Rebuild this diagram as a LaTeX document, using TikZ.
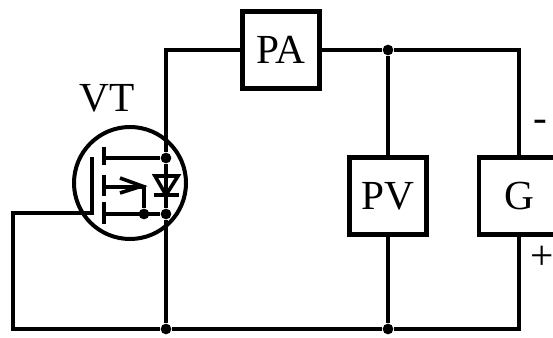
\documentclass[tikz,border=0pt]{standalone}
\usepackage{fontspec}
\setmainfont{Liberation Serif}
\tikzset{
    meterbox/.style={draw, rectangle, line width=3.4pt, minimum width=58pt, minimum height=58pt, inner sep=0pt, font=\fontsize{31}{31}\selectfont, fill=white},
    wire/.style={line width=3pt},
    thinwire/.style={line width=2.7pt},
    junction/.style={circle, fill=black, minimum size=8pt, inner sep=0pt},
    lbl/.style={inner sep=0pt, font=\fontsize{31}{31}\selectfont}
}
\begin{document}
\begin{tikzpicture}[x=0.75pt, y=-0.75pt]
    \useasboundingbox (0,0) rectangle (553,338);
    \node[meterbox] (pa) at (281,50) {PA};
    \node[meterbox] (pv) at (388,196) {PV};
    \node[meterbox, minimum width=60pt] (g) at (519,196) {G};
    \node[draw, circle, line width=3pt, minimum size=84pt, inner sep=0pt] (vt) at (130,183) {};
    % junctions
    \foreach \name/\x/\y in {jd/166/158, js/166/214, jb/144/214, jbot/166/329, jtop/388/50, jvb/388/329} {
        \node[junction] (\name) at (\x,\y) {};
    }
    % free corners
    \coordinate (tl) at (166,50);
    \coordinate (tr) at (519,50);
    \coordinate (bl) at (13,329);
    \coordinate (br) at (519,329);
    \coordinate (gl) at (13,213);
    \coordinate (gb) at (92,213);
    \coordinate (gt) at (92,157);
    \coordinate (dch) at (104,158);
    \coordinate (sch) at (104,214);
    \coordinate (mch) at (104,187);
    \coordinate (mid) at (144,187);
    % outer loop
    \draw[wire] (jbot) -- (js) -- (jd) -- (tl) -- (pa);
    \draw[wire] (pa) -- (jtop) -- (tr) -- (g);
    \draw[wire] (g) -- (br) -- (jvb) -- (jbot) -- (bl) -- (gl) -- (gb) -- (gt);
    \draw[wire] (jtop) -- (pv) -- (jvb);
    % channel
    \foreach \a/\b in {147/165, 175/196, 202/224} {
        \coordinate (ca\a) at (104,\a);
        \coordinate (cb\a) at (104,\b);
        \draw[thinwire] (ca\a) -- (cb\a);
    }
    \draw[thinwire] (dch) -- (jd);
    \draw[thinwire] (sch) -- (js);
    \draw[thinwire] (mch) -- (mid) -- (jb);
    \draw[thinwire] (jb) -- (js);
    % arrow head
    \coordinate (ah1) at (120,178);
    \coordinate (ah2) at (120,193);
    \coordinate (ahtip) at (142,186);
    \draw[thinwire] (ah1) -- (ahtip) -- (ah2);
    % diode
    \coordinate (d1) at (155,176);
    \coordinate (d2) at (178,176);
    \coordinate (d3) at (166,195);
    \coordinate (d4) at (154,195);
    \coordinate (d5) at (179,195);
    \draw[thinwire] (d1) -- (d2) -- (d3) -- cycle;
    \draw[thinwire] (d4) -- (d5);
    % labels
    \node[lbl] (vtl) at (107,98) {VT};
    \node[lbl] (minus) at (540,126) {-};
    \node[lbl] (plus) at (542,258) {+};
\end{tikzpicture}
\end{document}
